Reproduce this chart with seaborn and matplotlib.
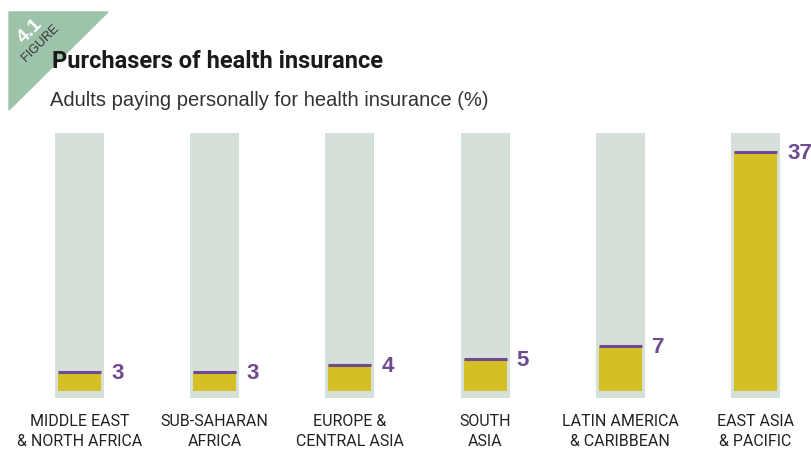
import matplotlib
matplotlib.use("Agg")
import matplotlib.pyplot as plt
import seaborn as sns
import pandas as pd
from matplotlib.patches import Polygon

categories = ["MIDDLE EAST\n& NORTH AFRICA", "SUB-SAHARAN\nAFRICA", "EUROPE &\nCENTRAL ASIA",
              "SOUTH\nASIA", "LATIN AMERICA\n& CARIBBEAN", "EAST ASIA\n& PACIFIC"]
values = [3, 3, 4, 5, 7, 37]
scale_max = 40

title = "Purchasers of health insurance"
subtitle = "Adults paying personally for health insurance (%)"

sns.set_theme(style="white")
plt.rcParams['font.family'] = ['Roboto', 'DejaVu Sans']

W, H = 812, 449
fig = plt.figure(figsize=(W / 100, H / 100), dpi=100)
ax = fig.add_axes([0, 0, 1, 1])

px_x = 135.2   # pixels per category
px_y = 6.45    # pixels per percent
x0_px, y0_px = 79.5, 391

bg_w = 49 / px_x
bar_w = 43 / px_x
pos = list(range(len(categories)))

ax.bar(pos, [scale_max + 1.1] * len(pos), bottom=-1.1, width=bg_w, color="#d5e0d8",
       linewidth=0, zorder=1)

df = pd.DataFrame({"cat": categories, "val": values})
sns.barplot(data=df, x="cat", y="val", order=categories, width=bar_w, color="#d4c026",
            saturation=1, linewidth=0, ax=ax, zorder=2)
ax.set_xlim(-x0_px / px_x, (W - x0_px) / px_x)
ax.set_ylim(-(H - y0_px) / px_y, y0_px / px_y)

for i, v in zip(pos, values):
    ax.hlines(v, i - bar_w / 2, i + bar_w / 2, color="#6f4a8e", linewidth=2.2, zorder=3)
    ax.text(i + bg_w / 2 + 7 / px_x, v - 0.25, str(v), ha="left", va="center", fontsize=16,
            fontweight="bold", color="#6f4a8e", family=["Liberation Sans", "DejaVu Sans"])
    ax.text(i, -(414 - y0_px) / px_y, categories[i], ha="center", va="top", fontsize=11.5,
            color="#222222", linespacing=1.4)

ax.axis("off")

# corner triangle
tri = Polygon([[9 / W, 1 - 12 / H], [108 / W, 1 - 12 / H], [9 / W, 1 - 110 / H]], closed=True,
              transform=fig.transFigure, color="#9dc3aa", zorder=0)
fig.patches.append(tri)
fig.text(30 / W, 1 - 31 / H, "4.1", rotation=45, ha="center", va="center", color="white",
         fontsize=14, fontweight="bold", family=["Liberation Sans", "DejaVu Sans"])
fig.text(40 / W, 1 - 43 / H, "FIGURE", rotation=45, ha="center", va="center", color="#333333",
         fontsize=9, family=["Liberation Sans", "DejaVu Sans"])

fig.text(52 / W, 1 - 62 / H, title, ha="left", va="center", fontsize=17, fontweight="bold",
         color="#1a1a1a")
fig.text(50 / W, 1 - 100 / H, subtitle, ha="left", va="center", fontsize=14.5, color="#333333",
         family=["Liberation Sans", "DejaVu Sans"])

fig.savefig("out.png", dpi=100)
